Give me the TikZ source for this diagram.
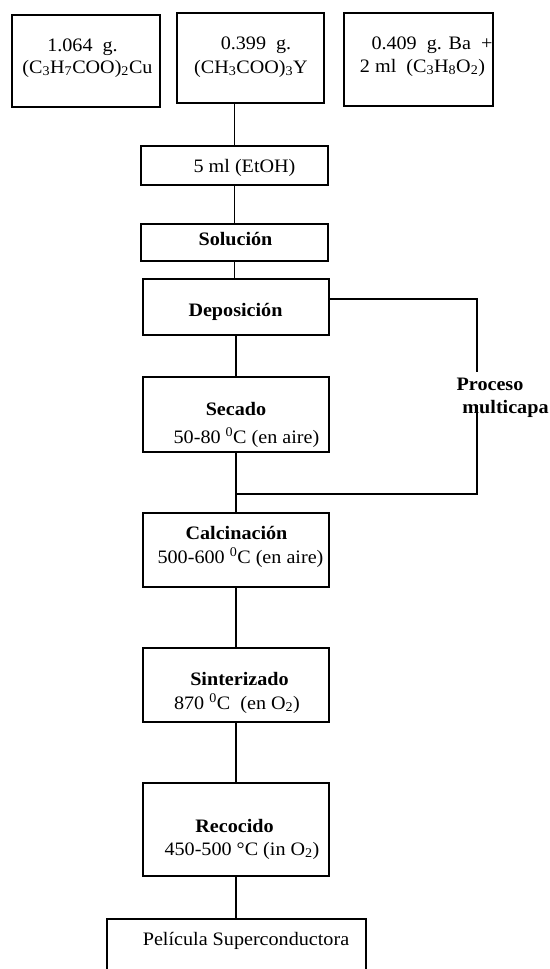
\documentclass[tikz,border=0pt]{standalone}
\usepackage{fontspec}
\setmainfont[FakeStretch=1.06]{Liberation Serif}
\begin{document}
\begin{tikzpicture}[x=1pt,y=-1pt,
  box/.style={draw, line width=1.4pt, inner sep=0pt, rectangle},
  txt/.style={anchor=base, inner sep=0pt, font=\fontsize{19}{23}\selectfont},
  btxt/.style={txt, font=\fontsize{19}{23}\selectfont\bfseries},
  ln/.style={line width=1.4pt}]
\clip (0,0) rectangle (549,969);
\fill[white] (0,0) rectangle (549,969);
% boxes
\node[box, minimum width=148pt, minimum height=92pt] (b1) at (86,61) {};
\node[box, minimum width=147pt, minimum height=90pt] (b2) at (250.5,58) {};
\node[box, minimum width=149pt, minimum height=93pt] (b3) at (418.5,59.5) {};
\node[box, minimum width=187pt, minimum height=39pt] (fiveml) at (234.5,165.5) {};
\node[box, minimum width=187pt, minimum height=37pt] (sol) at (234.5,242.5) {};
\node[box, minimum width=186pt, minimum height=56pt] (depo) at (236,307) {};
\node[box, minimum width=186pt, minimum height=75pt] (sec) at (236,414.5) {};
\node[box, minimum width=186pt, minimum height=74pt] (cal) at (236,550) {};
\node[box, minimum width=186pt, minimum height=74pt] (sin) at (236,685) {};
\node[box, minimum width=186pt, minimum height=93pt] (rec) at (236,829.5) {};
\node[box, minimum width=259pt, minimum height=70pt] (pel) at (236.5,954) {};
% texts
\node[txt] (t1a) at (82.5,51) {1.064\ \ g.};
\node[txt] (t1b) at (87.5,73) {(C\textsubscript{3}H\textsubscript{7}COO)\textsubscript{2}Cu};
\node[txt] (t2a) at (256,49) {0.399\ \ g.};
\node[txt] (t2b) at (251,73) {(CH\textsubscript{3}COO)\textsubscript{3}Y};
\node[txt] (t3a) at (432,49) {0.409\ \ g. Ba\ \ +};
\node[txt] (t3b) at (422.5,72) {2 ml\ \ (C\textsubscript{3}H\textsubscript{8}O\textsubscript{2})};
\node[txt] (t4) at (244.5,172) {5 ml (EtOH)};
\node[btxt] (t5) at (235.5,245) {Solución};
\node[btxt] (t6) at (235.5,316) {Deposición};
\node[btxt] (t7a) at (236,415) {Secado};
\node[txt] (t7b) at (246.5,443) {50-80 \textsuperscript{0}C (en aire)};
\node[btxt] (t8a) at (236.5,539) {Calcinación};
\node[txt] (t8b) at (240.5,563) {500-600 \textsuperscript{0}C (en aire)};
\node[btxt] (t9a) at (239.5,685) {Sinterizado};
\node[txt] (t9b) at (237,709) {870 \textsuperscript{0}C\ \ (en O\textsubscript{2})};
\node[btxt] (t10a) at (234.5,832) {Recocido};
\node[txt] (t10b) at (242,855) {450-500 °C (in O\textsubscript{2})};
\node[txt] (t11) at (246,945) {Película Superconductora};
\node[btxt] (p1) at (490,390) {Proceso};
\node[btxt] (p2) at (505.5,413) {multicapa};
% connectors
\draw[ln] (fiveml.north) -- (fiveml.north |- b2.south);
\draw[ln] (fiveml.south) -- (sol.north);
\draw[ln] (sol.south) -- (sol.south |- depo.north);
\draw[ln] (depo.south) -- (sec.north);
\draw[ln] (sec.south) -- (cal.north);
\draw[ln] (cal.south) -- (sin.north);
\draw[ln] (sin.south) -- (rec.north);
\draw[ln] (rec.south) -- (rec.south |- pel.north);
% multilayer loop
\coordinate (ma) at (477,299);
\coordinate (mb) at (477,372);
\coordinate (mc) at (477,405);
\coordinate (md) at (477,494);
\draw[ln] (depo.east |- ma) -- (ma) -- (mb);
\draw[ln] (mc) -- (md) -- (md -| sec.south);
\end{tikzpicture}
\end{document}
